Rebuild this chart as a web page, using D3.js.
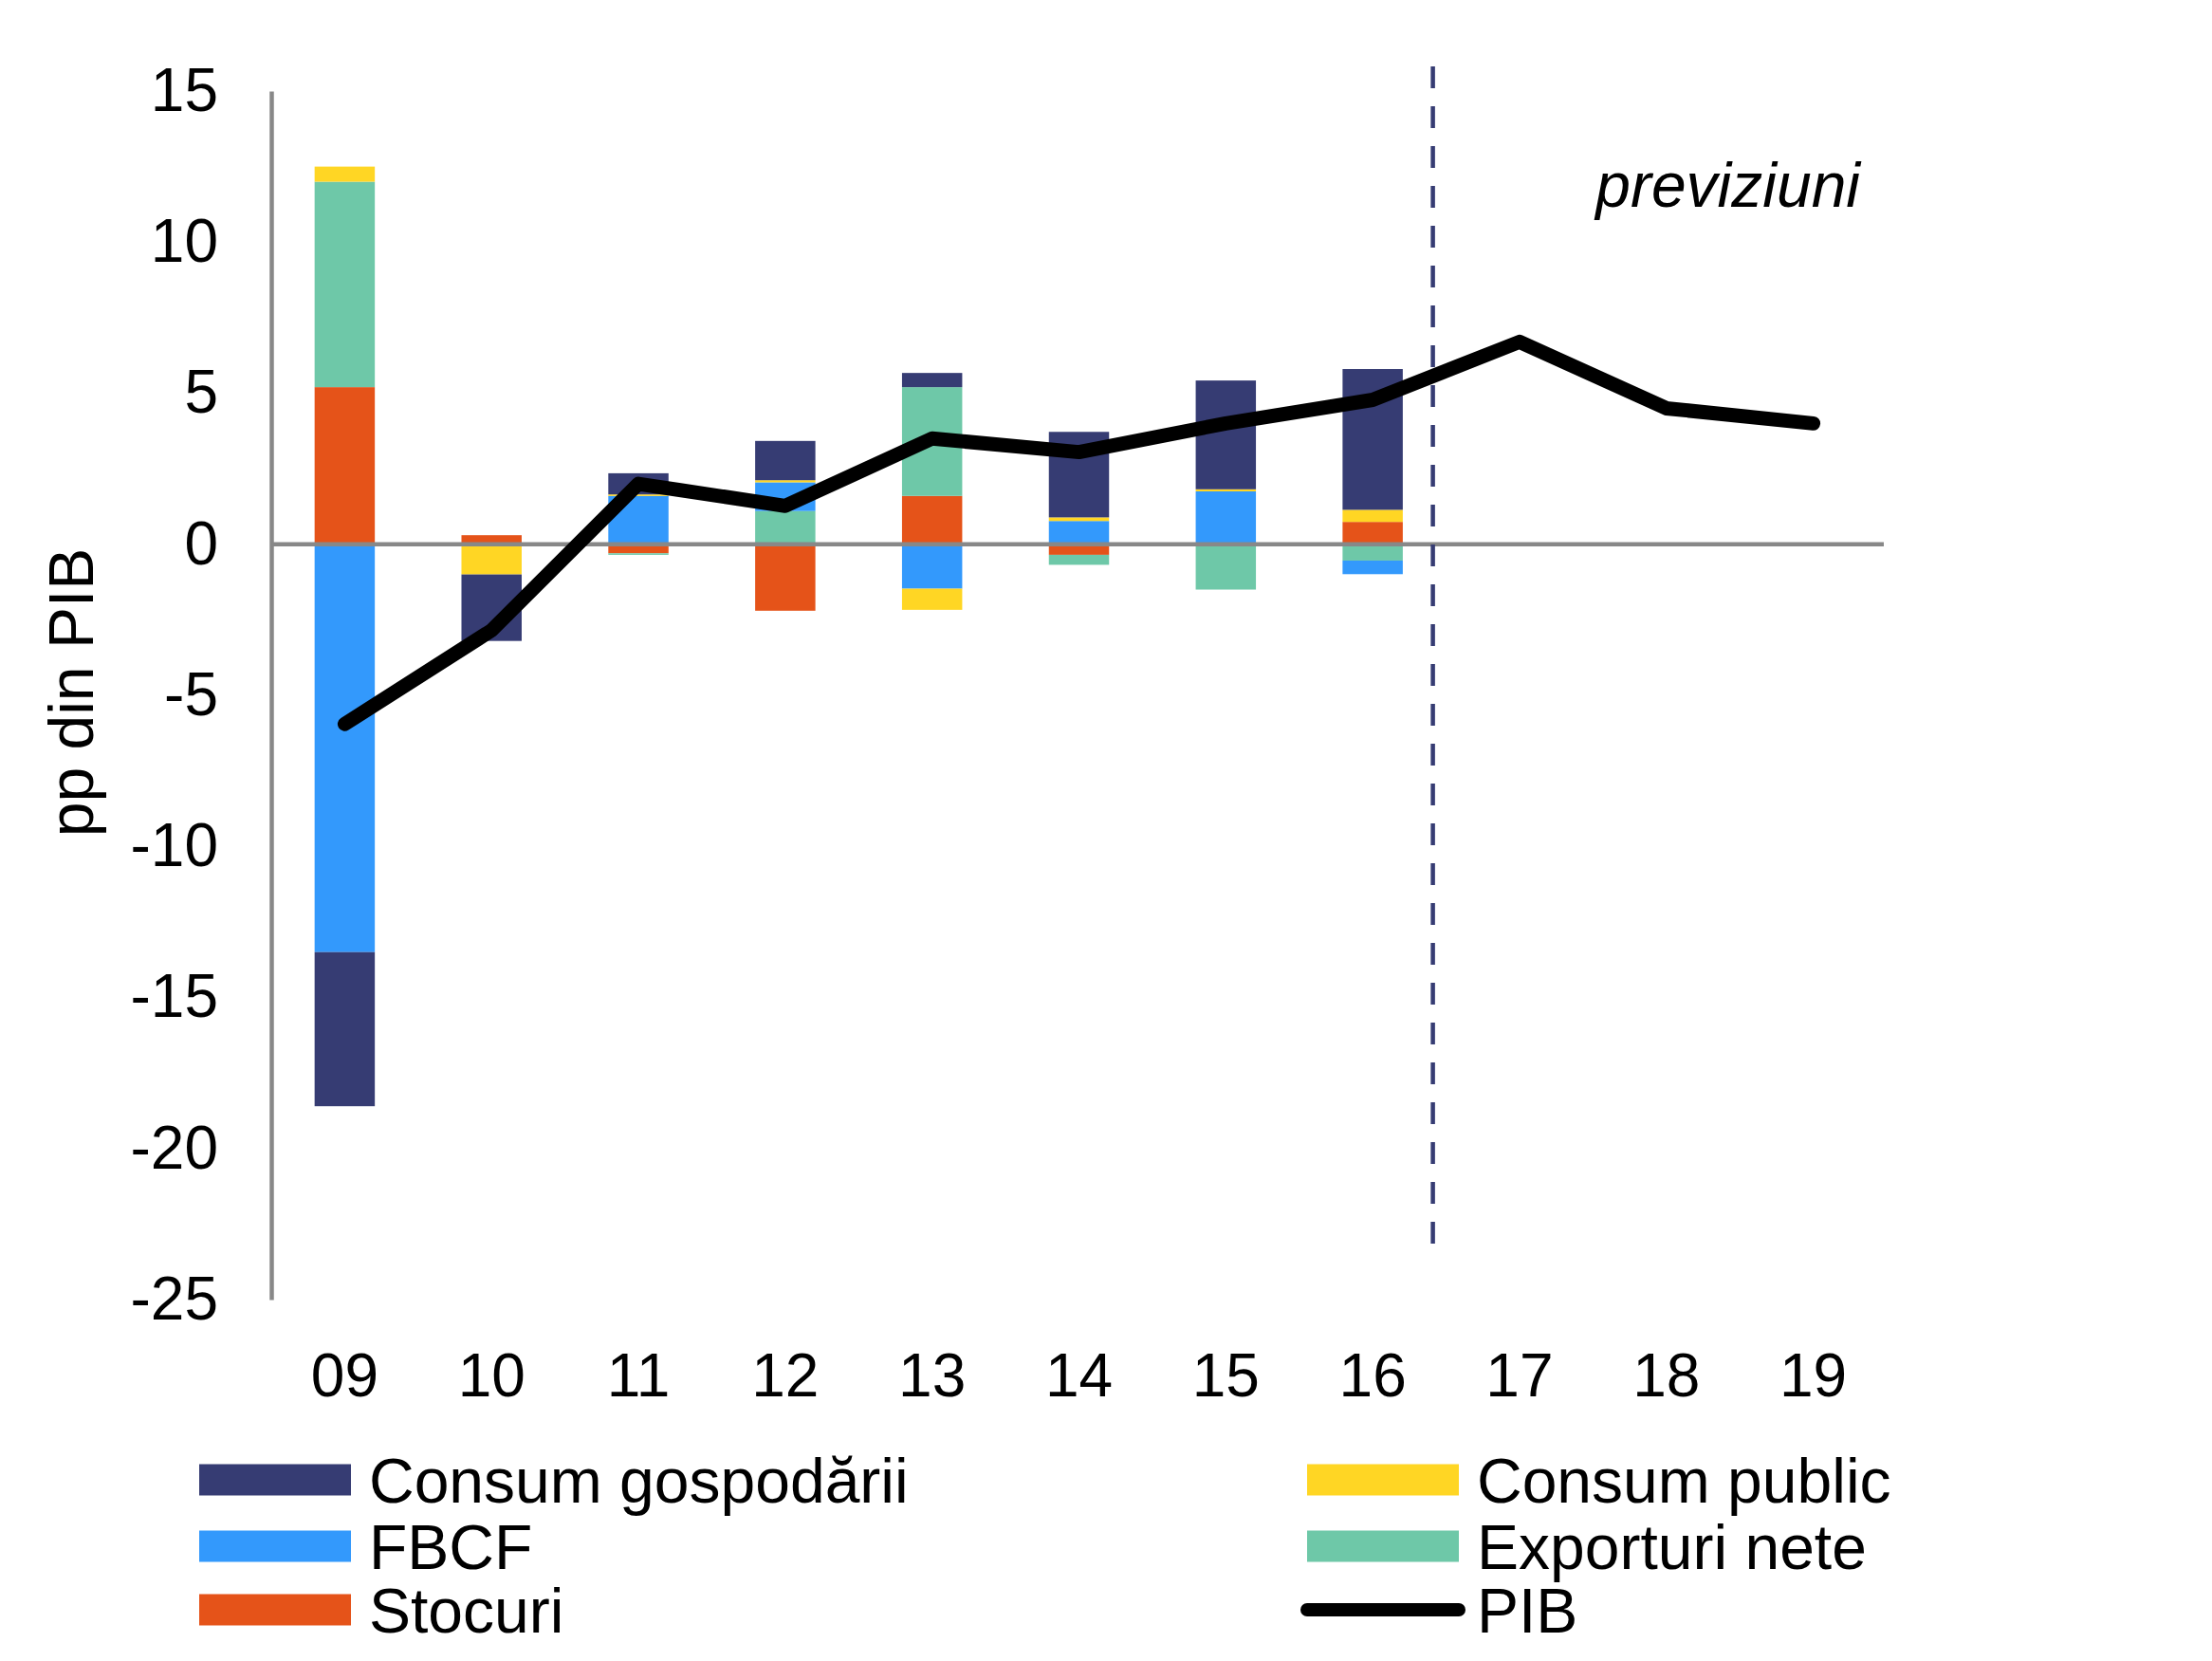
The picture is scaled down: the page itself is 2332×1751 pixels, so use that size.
<!DOCTYPE html>
<html>
<head>
<meta charset="utf-8">
<script src="https://cdn.jsdelivr.net/npm/d3@7"></script>
<style>
  html, body { margin: 0; padding: 0; background: #fff; }
  svg { display: block; font-family: "Liberation Sans", Arial, sans-serif; }
</style>
</head>
<body>
<div id="chart"></div>
<script>
// Contribuții la creșterea PIB (pp)
const years = ["09", "10", "11", "12", "13", "14", "15", "16", "17", "18", "19"];

// stack order (bottom -> top) follows the original series order
const stocuri      = [5.2, 0.3, -0.3, -2.2, 1.6, -0.35, 0, 0.74, null, null, null];
const exporturi    = [6.8, 0, -0.05, 1.1, 3.6, -0.33, -1.5, -0.54, null, null, null];
const fbcf         = [-13.5, 0, 1.6, 0.95, -1.47, 0.77, 1.75, -0.45, null, null, null];
const consumPublic = [0.5, -1.0, 0.05, 0.07, -0.7, 0.12, 0.07, 0.4, null, null, null];
const consumGosp   = [-5.1, -2.2, 0.7, 1.3, 0.47, 2.83, 3.6, 4.66, null, null, null];
const pib          = [-5.95, -2.85, 2.0, 1.27, 3.5, 3.05, 4.0, 4.78, 6.7, 4.5, 4.0];

const yTicks = [15, 10, 5, 0, -5, -10, -15, -20, -25];

const series = [
  { key: "stocuri", name: "Stocuri", values: stocuri, color: "#e55319" },
  { key: "export", name: "Exporturi nete", values: exporturi, color: "#6ec8a8" },
  { key: "fbcf", name: "FBCF", values: fbcf, color: "#3399fc" },
  { key: "cp", name: "Consum public", values: consumPublic, color: "#ffd624" },
  { key: "cg", name: "Consum gospodării", values: consumGosp, color: "#363c73" }
];

const W = 2332, H = 1751;
const x0 = 286, x1 = 1989;
const yTop = 96, yBot = 1370;

const svg = d3.select("#chart").append("svg")
  .attr("width", W)
  .attr("height", H);

const x = d3.scaleBand().domain(years).range([x0, x1]).paddingInner(0.59).paddingOuter(0.295);
const y = d3.scaleLinear().domain([-25, 15]).range([yBot, yTop]);
const cx = d => x(d) + x.bandwidth() / 2;

// table for d3.stack
const table = years.map((yr, i) => {
  const row = { year: yr };
  series.forEach(s => { row[s.key] = s.values[i] || 0; });
  return row;
});

const stack = d3.stack()
  .keys(series.map(s => s.key))
  .offset(d3.stackOffsetDiverging);

const layers = stack(table);

// Bars
svg.append("g").selectAll("g")
  .data(layers)
  .join("g")
  .attr("fill", (d, i) => series[i].color)
  .selectAll("rect")
  .data(d => d.filter(p => p[1] - p[0] !== 0))
  .join("rect")
  .attr("x", d => x(d.data.year))
  .attr("width", x.bandwidth())
  .attr("y", d => y(Math.max(d[0], d[1])))
  .attr("height", d => Math.abs(y(d[0]) - y(d[1])));

// Y axis
const yAxis = svg.append("g")
  .attr("transform", `translate(${x0},0)`)
  .call(d3.axisLeft(y).tickValues(yTicks).tickSize(0).tickPadding(56).tickFormat(d => String(d)));
yAxis.select(".domain").attr("stroke", "#888888").attr("stroke-width", 4.5);
yAxis.selectAll("text")
  .attr("font-size", 64)
  .attr("fill", "#000")
  .attr("font-family", "Liberation Sans, Arial, sans-serif");

// Zero line
svg.append("line")
  .attr("x1", x0).attr("x2", x1 - 3)
  .attr("y1", y(0)).attr("y2", y(0))
  .attr("stroke", "#888888").attr("stroke-width", 4.5);

// X axis labels
const xAxis = svg.append("g")
  .attr("transform", `translate(0,${yBot + 57})`)
  .call(d3.axisBottom(x).tickSize(0).tickPadding(0));
xAxis.select(".domain").remove();
xAxis.selectAll("text")
  .attr("font-size", 64)
  .attr("fill", "#000")
  .attr("font-family", "Liberation Sans, Arial, sans-serif");

// Forecast divider between 16 and 17
const xDiv = cx("16") + (cx("17") - cx("16")) * 0.41;
svg.append("line")
  .attr("x1", xDiv).attr("x2", xDiv)
  .attr("y1", 70).attr("y2", 1316)
  .attr("stroke", "#363c73")
  .attr("stroke-width", 4.5)
  .attr("stroke-dasharray", "23,19");

svg.append("text")
  .attr("x", 1961).attr("y", 218)
  .attr("text-anchor", "end")
  .attr("font-size", 66)
  .attr("font-style", "italic")
  .text("previziuni");

// PIB line
const line = d3.line()
  .x((d, i) => cx(years[i]))
  .y(d => y(d));

svg.append("path")
  .datum(pib)
  .attr("fill", "none")
  .attr("stroke", "#000")
  .attr("stroke-width", 15)
  .attr("stroke-linejoin", "round")
  .attr("stroke-linecap", "round")
  .attr("d", line);

// Y axis title
svg.append("text")
  .attr("transform", `translate(98,730) rotate(-90)`)
  .attr("text-anchor", "middle")
  .attr("font-size", 66)
  .text("pp din PIB");

// Legend
const byKey = k => series.find(s => s.key === k);
const legendItems = [
  { col: 0, row: 0, s: byKey("cg") },
  { col: 0, row: 1, s: byKey("fbcf") },
  { col: 0, row: 2, s: byKey("stocuri") },
  { col: 1, row: 0, s: byKey("cp") },
  { col: 1, row: 1, s: byKey("export") },
  { col: 1, row: 2, s: { name: "PIB", line: true } }
];
const colX = [210, 1378];
const rowY = [1560, 1630, 1697];
const swW = 160, swH = 33;

const lg = svg.append("g");
legendItems.forEach(it => {
  const gx = colX[it.col], gy = rowY[it.row];
  if (it.s.line) {
    lg.append("line")
      .attr("x1", gx).attr("x2", gx + swW)
      .attr("y1", gy).attr("y2", gy)
      .attr("stroke", "#000").attr("stroke-width", 14)
      .attr("stroke-linecap", "round");
  } else {
    lg.append("rect")
      .attr("x", gx).attr("y", gy - swH / 2)
      .attr("width", swW).attr("height", swH)
      .attr("fill", it.s.color);
  }
  lg.append("text")
    .attr("x", gx + swW + 19).attr("y", gy + 24)
    .attr("font-size", 66)
    .text(it.s.name);
});
</script>
</body>
</html>
